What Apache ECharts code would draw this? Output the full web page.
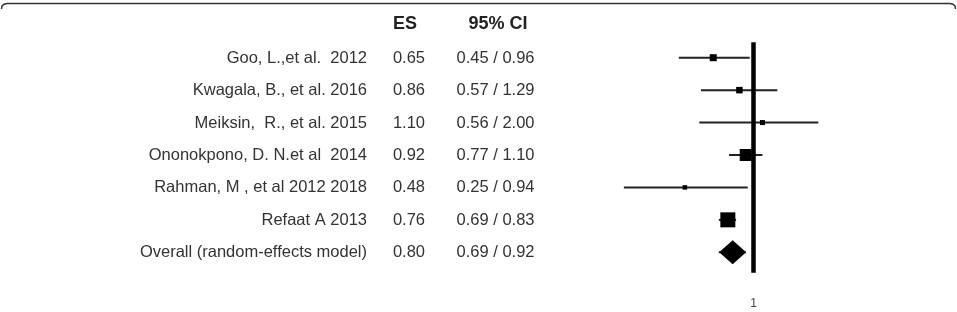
<!DOCTYPE html>
<html>
<head>
<meta charset="utf-8">
<script src="https://cdn.jsdelivr.net/npm/echarts@6/dist/echarts.min.js"></script>
<style>
html,body{margin:0;padding:0;background:#fff;}
#chart{width:957px;height:312px;}
</style>
</head>
<body>
<div id="chart"></div>
<script>
// ---- data ----
const studies = [
  'Goo, L.,et al.  2012',
  'Kwagala, B., et al. 2016',
  'Meiksin,  R., et al. 2015',
  'Ononokpono, D. N.et al  2014',
  'Rahman, M , et al 2012 2018',
  'Refaat A 2013',
  'Overall (random-effects model)'
];
const es     = [0.65, 0.86, 1.10, 0.92, 0.48, 0.76, 0.80];
const ciLow  = [0.45, 0.57, 0.56, 0.77, 0.25, 0.69, 0.69];
const ciHigh = [0.96, 1.29, 2.00, 1.10, 0.94, 0.83, 0.92];
const rowKind = ['study', 'study', 'study', 'study', 'study', 'study', 'overall'];
const headers = ['ES', '95% CI'];
const refValue = 1;
const tickLabels = ['1'];

// ---- style ----
const markerSize = [7, 6.5, 5, 12, 4.5, 15, [27, 24]];
const FONT = '"Liberation Sans", Arial, sans-serif';
const colNameRight = 367, colEsRight = 425, colCiRight = 534.5;

const rows = studies.map((_, i) => i);
const fmt = v => v.toFixed(2);

const chart = echarts.init(document.getElementById('chart'), null, {renderer: 'canvas'});
chart.setOption({
  animation: false,
  backgroundColor: '#fff',
  grid: {left: 603, right: 117.8, top: 42.3, bottom: 39.3, containLabel: false},
  xAxis: {
    type: 'log', logBase: 10, min: 0.2, max: 2.5,
    axisLine: {show: false}, axisTick: {show: false}, splitLine: {show: false},
    axisLabel: {
      margin: 25, color: '#444', fontSize: 12, fontFamily: FONT,
      showMinLabel: false, showMaxLabel: false,
      formatter: v => (Math.abs(v - refValue) < 1e-6 ? tickLabels[0] : '')
    }
  },
  yAxis: {type: 'value', inverse: true, min: -0.475, max: 6.63, show: false},
  graphic: [
    {type: 'polyline', shape: {points: [[1.5, 9], [2, 6], [4, 4.2], [7, 3.5], [950, 3.5], [953, 4.2], [955, 6], [955.5, 9]]},
      style: {stroke: '#333', lineWidth: 1.5, fill: null}},
    {type: 'text', x: 405, y: 24.5, style: {text: headers[0], align: 'center', verticalAlign: 'middle',
      fontSize: 18, fontWeight: 'bold', fontFamily: '"Liberation Sans Narrow", "Liberation Sans", sans-serif', fill: '#222'}},
    {type: 'text', x: 498, y: 24.5, style: {text: headers[1], align: 'center', verticalAlign: 'middle',
      fontSize: 18, fontWeight: 'bold', fontFamily: '"Liberation Sans Narrow", "Liberation Sans", sans-serif', fill: '#222'}}
  ],
  series: [
    {
      type: 'custom', name: 'ci', clip: false, z: 2,
      data: rows.map(i => [ciLow[i], ciHigh[i], i]),
      encode: {x: [0, 1], y: 2},
      renderItem: (params, api) => {
        const a = api.coord([api.value(0), api.value(2)]);
        const b = api.coord([api.value(1), api.value(2)]);
        return {type: 'line', shape: {x1: a[0], y1: a[1], x2: b[0], y2: b[1]},
          style: {stroke: '#222', lineWidth: 2}};
      }
    },
    {
      type: 'custom', name: 'table', clip: false, silent: true, z: 2,
      data: rows.map(i => [es[i], i]),
      encode: {x: 0, y: 1},
      renderItem: (params, api) => {
        const i = params.dataIndex;
        const y = api.coord([refValue, api.value(1)])[1] + 0.5;
        const st = (text, x) => ({type: 'text', x: x, y: y,
          style: {text: text, align: 'right', verticalAlign: 'middle', fontSize: 16.5, fontFamily: FONT, fill: '#333'}});
        return {type: 'group', children: [
          st(studies[i], colNameRight),
          st(fmt(es[i]), colEsRight),
          st(fmt(ciLow[i]) + ' / ' + fmt(ciHigh[i]), colCiRight)
        ]};
      }
    },
    {
      type: 'scatter', name: 'ES', z: 3,
      itemStyle: {color: '#000', opacity: 1},
      data: rows.map(i => ({
        value: [es[i], i],
        symbol: rowKind[i] === 'overall' ? 'diamond' : 'rect',
        symbolSize: markerSize[i]
      })),
      markLine: {
        silent: true, symbol: 'none', label: {show: false}, z: 4,
        lineStyle: {color: '#000', width: 4.5, type: 'solid'},
        data: [{xAxis: refValue}]
      }
    }
  ]
});
</script>
</body>
</html>
